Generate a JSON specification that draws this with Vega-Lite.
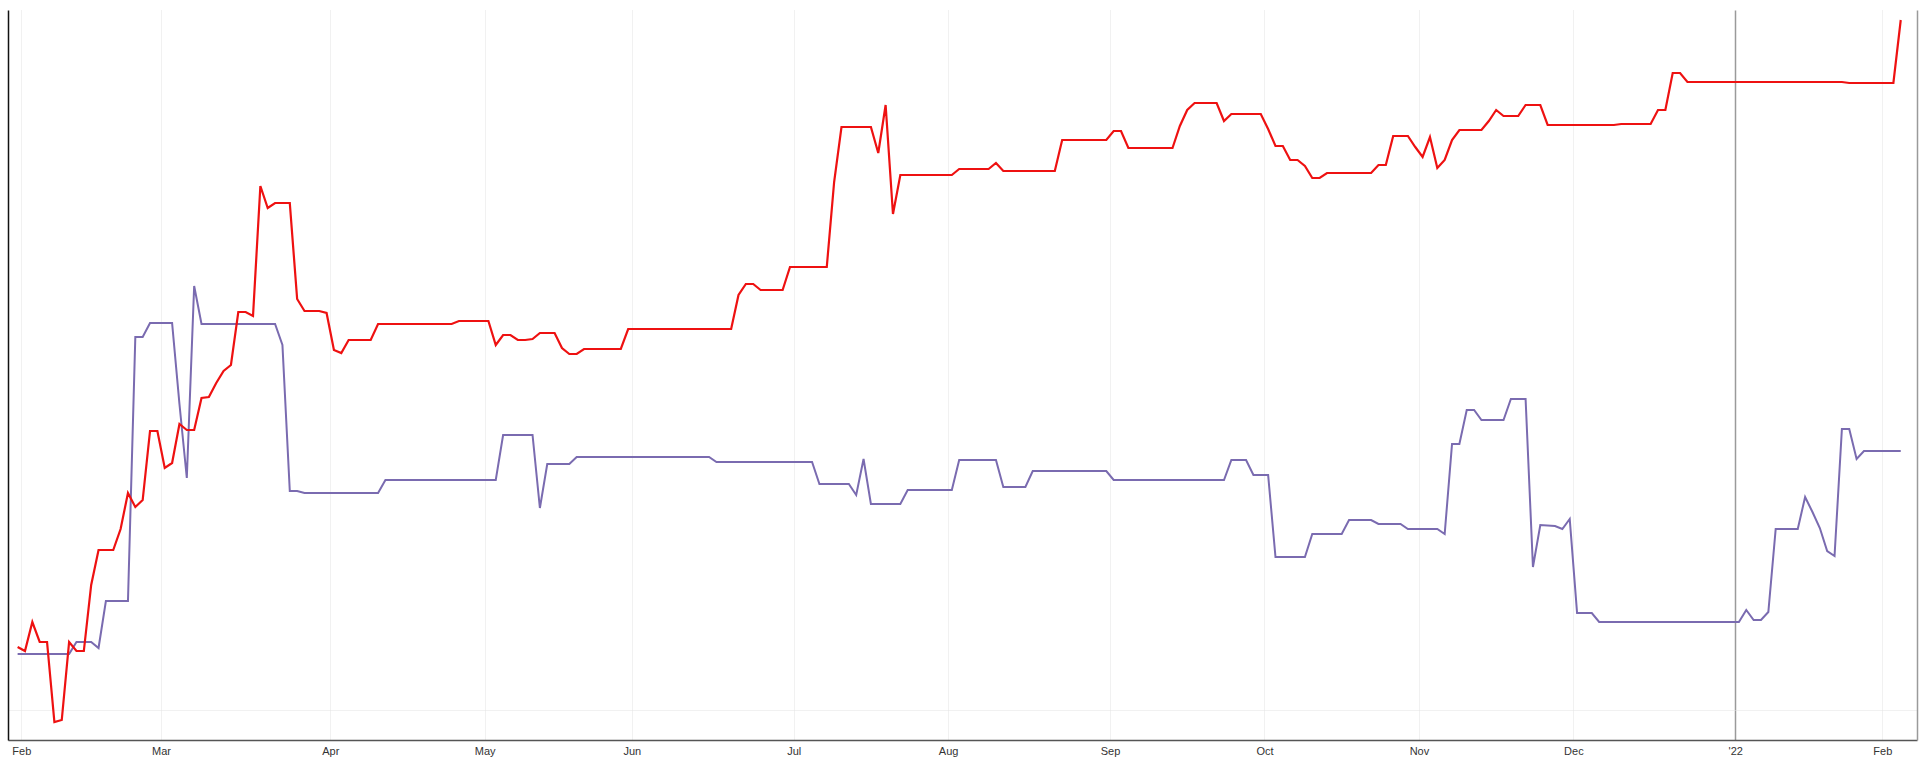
{
  "$schema": "https://vega.github.io/schema/vega-lite/v6.json",
  "width": 1909,
  "height": 730,
  "autosize": {"type": "none"},
  "padding": {"left": 8, "top": 10, "right": 3, "bottom": 23},
  "background": "#ffffff",
  "config": {"view": {"stroke": null}, "font": "Liberation Sans"},
  "datasets": {
    "red": [
      {"d": -1, "v": 93}, {"d": 0, "v": 89}, {"d": 1, "v": 118}, {"d": 2, "v": 98}, {"d": 3, "v": 98}, {"d": 4, "v": 18}, {"d": 5, "v": 20}, {"d": 6, "v": 98}, {"d": 7, "v": 89}, {"d": 8, "v": 89},
      {"d": 9, "v": 155}, {"d": 10, "v": 190}, {"d": 12, "v": 190}, {"d": 13, "v": 211}, {"d": 14, "v": 247}, {"d": 15, "v": 233}, {"d": 16, "v": 240}, {"d": 17, "v": 309}, {"d": 18, "v": 309}, {"d": 19, "v": 272},
      {"d": 20, "v": 277}, {"d": 21, "v": 316}, {"d": 22, "v": 310}, {"d": 23, "v": 310}, {"d": 24, "v": 342}, {"d": 25, "v": 343}, {"d": 26, "v": 357}, {"d": 27, "v": 369}, {"d": 28, "v": 375}, {"d": 29, "v": 428},
      {"d": 30, "v": 428}, {"d": 31, "v": 424}, {"d": 32, "v": 554}, {"d": 33, "v": 532}, {"d": 34, "v": 537}, {"d": 36, "v": 537}, {"d": 37, "v": 441}, {"d": 38, "v": 429}, {"d": 40, "v": 429}, {"d": 41, "v": 427},
      {"d": 42, "v": 390}, {"d": 43, "v": 387}, {"d": 44, "v": 400}, {"d": 47, "v": 400}, {"d": 48, "v": 416}, {"d": 58, "v": 416}, {"d": 59, "v": 419}, {"d": 63, "v": 419}, {"d": 64, "v": 395}, {"d": 65, "v": 405},
      {"d": 66, "v": 405}, {"d": 67, "v": 400}, {"d": 68, "v": 400}, {"d": 69, "v": 401}, {"d": 70, "v": 407}, {"d": 72, "v": 407}, {"d": 73, "v": 392}, {"d": 74, "v": 386}, {"d": 75, "v": 386}, {"d": 76, "v": 391},
      {"d": 81, "v": 391}, {"d": 82, "v": 411}, {"d": 96, "v": 411}, {"d": 97, "v": 445}, {"d": 98, "v": 456}, {"d": 99, "v": 456}, {"d": 100, "v": 450}, {"d": 103, "v": 450}, {"d": 104, "v": 473}, {"d": 109, "v": 473},
      {"d": 110, "v": 558}, {"d": 111, "v": 613}, {"d": 115, "v": 613}, {"d": 116, "v": 587}, {"d": 117, "v": 635}, {"d": 118, "v": 526}, {"d": 119, "v": 565}, {"d": 126, "v": 565}, {"d": 127, "v": 571}, {"d": 131, "v": 571},
      {"d": 132, "v": 577}, {"d": 133, "v": 569}, {"d": 140, "v": 569}, {"d": 141, "v": 600}, {"d": 147, "v": 600}, {"d": 148, "v": 609}, {"d": 149, "v": 609}, {"d": 150, "v": 592}, {"d": 156, "v": 592}, {"d": 157, "v": 614},
      {"d": 158, "v": 630}, {"d": 159, "v": 637}, {"d": 162, "v": 637}, {"d": 163, "v": 619}, {"d": 164, "v": 626}, {"d": 168, "v": 626}, {"d": 169, "v": 611}, {"d": 170, "v": 594}, {"d": 171, "v": 594}, {"d": 172, "v": 580},
      {"d": 173, "v": 580}, {"d": 174, "v": 574}, {"d": 175, "v": 562}, {"d": 176, "v": 562}, {"d": 177, "v": 567}, {"d": 183, "v": 567}, {"d": 184, "v": 575}, {"d": 185, "v": 575}, {"d": 186, "v": 604}, {"d": 188, "v": 604},
      {"d": 189, "v": 593}, {"d": 190, "v": 583}, {"d": 191, "v": 603}, {"d": 192, "v": 572}, {"d": 193, "v": 580}, {"d": 194, "v": 600}, {"d": 195, "v": 610}, {"d": 198, "v": 610}, {"d": 199, "v": 619}, {"d": 200, "v": 630},
      {"d": 201, "v": 624}, {"d": 203, "v": 624}, {"d": 204, "v": 635}, {"d": 206, "v": 635}, {"d": 207, "v": 615}, {"d": 216, "v": 615}, {"d": 217, "v": 616}, {"d": 221, "v": 616}, {"d": 222, "v": 630}, {"d": 223, "v": 630},
      {"d": 224, "v": 667}, {"d": 225, "v": 667}, {"d": 226, "v": 658}, {"d": 247, "v": 658}, {"d": 248, "v": 657}, {"d": 254, "v": 657}, {"d": 255, "v": 720}
    ],
    "purple": [
      {"d": -1, "v": 86}, {"d": 6, "v": 86}, {"d": 7, "v": 98}, {"d": 9, "v": 98}, {"d": 10, "v": 92}, {"d": 11, "v": 139}, {"d": 14, "v": 139}, {"d": 15, "v": 403}, {"d": 16, "v": 403}, {"d": 17, "v": 417},
      {"d": 20, "v": 417}, {"d": 21, "v": 336}, {"d": 22, "v": 262}, {"d": 23, "v": 454}, {"d": 24, "v": 416}, {"d": 34, "v": 416}, {"d": 35, "v": 395}, {"d": 36, "v": 249}, {"d": 37, "v": 249}, {"d": 38, "v": 247},
      {"d": 48, "v": 247}, {"d": 49, "v": 260}, {"d": 64, "v": 260}, {"d": 65, "v": 305}, {"d": 69, "v": 305}, {"d": 70, "v": 232}, {"d": 71, "v": 276}, {"d": 74, "v": 276}, {"d": 75, "v": 283}, {"d": 93, "v": 283},
      {"d": 94, "v": 278}, {"d": 107, "v": 278}, {"d": 108, "v": 256}, {"d": 112, "v": 256}, {"d": 113, "v": 245}, {"d": 114, "v": 281}, {"d": 115, "v": 236}, {"d": 119, "v": 236}, {"d": 120, "v": 250}, {"d": 126, "v": 250},
      {"d": 127, "v": 280}, {"d": 132, "v": 280}, {"d": 133, "v": 253}, {"d": 136, "v": 253}, {"d": 137, "v": 269}, {"d": 147, "v": 269}, {"d": 148, "v": 260}, {"d": 163, "v": 260}, {"d": 164, "v": 280}, {"d": 166, "v": 280},
      {"d": 167, "v": 265}, {"d": 169, "v": 265}, {"d": 170, "v": 183}, {"d": 174, "v": 183}, {"d": 175, "v": 206}, {"d": 179, "v": 206}, {"d": 180, "v": 220}, {"d": 183, "v": 220}, {"d": 184, "v": 216}, {"d": 187, "v": 216},
      {"d": 188, "v": 211}, {"d": 192, "v": 211}, {"d": 193, "v": 206}, {"d": 194, "v": 296}, {"d": 195, "v": 296}, {"d": 196, "v": 330}, {"d": 197, "v": 330}, {"d": 198, "v": 320}, {"d": 201, "v": 320}, {"d": 202, "v": 341},
      {"d": 204, "v": 341}, {"d": 205, "v": 173}, {"d": 206, "v": 215}, {"d": 208, "v": 214}, {"d": 209, "v": 211}, {"d": 210, "v": 221}, {"d": 211, "v": 127}, {"d": 213, "v": 127}, {"d": 214, "v": 118}, {"d": 233, "v": 118},
      {"d": 234, "v": 130}, {"d": 235, "v": 120}, {"d": 236, "v": 120}, {"d": 237, "v": 128}, {"d": 238, "v": 211}, {"d": 241, "v": 211}, {"d": 242, "v": 243}, {"d": 243, "v": 228}, {"d": 244, "v": 212}, {"d": 245, "v": 189},
      {"d": 246, "v": 184}, {"d": 247, "v": 311}, {"d": 248, "v": 311}, {"d": 249, "v": 281}, {"d": 250, "v": 289}, {"d": 255, "v": 289}
    ]
  },
  "encoding": {
    "x": {
      "field": "d",
      "type": "quantitative",
      "scale": {"domain": [-2.308, 257.21], "nice": false, "zero": false},
      "axis": {
        "title": null,
        "values": [-0.5, 18.5, 41.5, 62.5, 82.5, 104.5, 125.5, 147.5, 168.5, 189.5, 210.5, 232.5, 252.5],
        "labelExpr": "datum.value < 0 ? 'Feb' : datum.value < 19 ? 'Mar' : datum.value < 42 ? 'Apr' : datum.value < 63 ? 'May' : datum.value < 83 ? 'Jun' : datum.value < 105 ? 'Jul' : datum.value < 126 ? 'Aug' : datum.value < 148 ? 'Sep' : datum.value < 169 ? 'Oct' : datum.value < 190 ? 'Nov' : datum.value < 211 ? 'Dec' : datum.value < 233 ? \"'22\" : 'Feb'",
        "ticks": false,
        "labelPadding": 5,
        "labelFontSize": 11,
        "labelFont": "Liberation Sans",
        "labelColor": "#333333",
        "labelFlush": false,
        "labelOverlap": false,
        "domainColor": "#555555",
        "domainWidth": 1.5,
        "grid": true,
        "gridColor": {"condition": {"test": "datum.value == 232.5", "value": "#9a9a9a"}, "value": "#e2e2e2"},
        "gridDash": {"condition": {"test": "datum.value == 232.5", "value": []}, "value": [1, 1]},
        "gridWidth": {"condition": {"test": "datum.value == 232.5", "value": 1.5}, "value": 1}
      }
    },
    "y": {
      "field": "v",
      "type": "quantitative",
      "scale": {"domain": [0, 730], "nice": false, "zero": false}
    }
  },
  "layer": [
    {
      "data": {"name": "purple"},
      "mark": {"type": "line", "color": "#7a6bb0", "strokeWidth": 2, "interpolate": "linear"},
      "encoding": {
        "y": {
          "field": "v",
          "type": "quantitative",
          "scale": {"domain": [0, 730], "nice": false, "zero": false},
          "axis": {"orient": "right", "title": null, "labels": false, "ticks": false, "grid": false, "domainColor": "#9a9a9a", "domainWidth": 1.5}
        }
      }
    },
    {
      "data": {"name": "red"},
      "mark": {"type": "line", "color": "#ee1111", "strokeWidth": 2.2, "interpolate": "linear"},
      "encoding": {
        "y": {
          "field": "v",
          "type": "quantitative",
          "scale": {"domain": [0, 730], "nice": false, "zero": false},
          "axis": {"orient": "left", "title": null, "labels": false, "ticks": false, "values": [30], "grid": true, "gridColor": "#e2e2e2", "gridDash": [1, 1], "domainColor": "#111111", "domainWidth": 1.5}
        }
      }
    }
  ],
  "resolve": {"axis": {"y": "independent"}}
}
